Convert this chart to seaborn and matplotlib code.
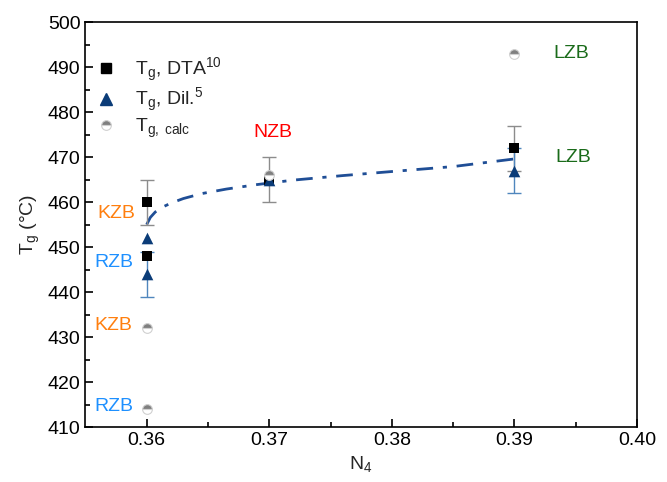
import matplotlib
matplotlib.use("Agg")
import matplotlib.pyplot as plt
import seaborn as sns
import pandas as pd
from matplotlib.lines import Line2D

sns.set_theme(style="ticks")
plt.rcParams['font.family'] = ['Liberation Sans', 'DejaVu Sans']
plt.rcParams['mathtext.fontset'] = 'custom'
plt.rcParams['mathtext.rm'] = 'Liberation Sans'
plt.rcParams['mathtext.it'] = 'Liberation Sans'

# Data
dta_x = [0.36, 0.36, 0.37, 0.39]
dta_y = [460, 448, 465, 472]
dta_err = [5, 0, 5, 5]

dil_x = [0.36, 0.36, 0.37, 0.39]
dil_y = [452, 444, 465, 467]
dil_err = [0, 5, 0, 5]

calc_x = [0.36, 0.36, 0.37, 0.39]
calc_y = [432, 414, 466, 493]

fit_x = [0.3600, 0.3603, 0.3607, 0.3613, 0.3620, 0.3630, 0.3645, 0.3665, 0.3690, 0.3720, 0.3760, 0.3800, 0.3850, 0.3900]
fit_y = [455.0, 456.6, 457.8, 458.9, 459.8, 460.8, 461.9, 462.9, 463.9, 464.9, 465.9, 466.8, 467.9, 469.6]

labels = ["KZB", "RZB", "KZB", "RZB", "NZB", "LZB", "LZB"]
label_x = [0.3575, 0.3573, 0.3573, 0.3573, 0.3703, 0.3946, 0.3948]
label_y = [457.5, 446.5, 432.5, 414.5, 475.5, 493.0, 470.0]
label_colors = ["#ff7f0e", "#1e90ff", "#ff7f0e", "#1e90ff", "#ff0000", "#1a6b1a", "#1a6b1a"]

navy = "#0b3c78"
fitc = "#1f4e96"

fig = plt.figure(figsize=(6.67, 4.82), dpi=100)
ax = fig.add_axes([0.128, 0.114, 0.827, 0.840])

fit_df = pd.DataFrame({"x": fit_x, "y": fit_y})
sns.lineplot(data=fit_df, x="x", y="y", ax=ax, color=fitc, lw=2.0,
             linestyle=(0, (6, 3.5, 1.5, 3.5)), zorder=2, sort=False)

# error bars
for x, y, e in zip(dta_x, dta_y, dta_err):
    if e:
        ax.errorbar(x, y, yerr=e, fmt='none', ecolor="#8c8c8c", elinewidth=1, capsize=5, capthick=1, zorder=3)
for x, y, e in zip(dil_x, dil_y, dil_err):
    if e:
        ax.errorbar(x, y, yerr=e, fmt='none', ecolor="#4f86bd", elinewidth=1, capsize=5, capthick=1, zorder=3)

dta_df = pd.DataFrame({"x": dta_x, "y": dta_y})
dil_df = pd.DataFrame({"x": dil_x, "y": dil_y})
sns.scatterplot(data=dta_df, x="x", y="y", ax=ax, marker="s", color="black", s=55, edgecolor="black", linewidth=0, zorder=4)
sns.scatterplot(data=dil_df, x="x", y="y", ax=ax, marker="^", color=navy, s=70, edgecolor=navy, linewidth=0, zorder=4)
ax.plot(calc_x, calc_y, 'o', ls='none', ms=7, fillstyle='top', markerfacecolor="#7f7f7f",
        markerfacecoloralt="white", markeredgecolor="#d0d0d0", markeredgewidth=0.8, zorder=5)

for t, x, y, c in zip(labels, label_x, label_y, label_colors):
    ax.text(x, y, t, color=c, fontsize=14, ha='center', va='center')

ax.set_xlim(0.355, 0.40)
ax.set_ylim(410, 500)
ax.set_xticks([0.36, 0.37, 0.38, 0.39, 0.40])
ax.set_xticklabels(["0.36", "0.37", "0.38", "0.39", "0.40"])
ax.set_yticks(range(410, 501, 10))
ax.set_xticks([0.365, 0.375, 0.385, 0.395], minor=True)
ax.set_yticks(range(415, 500, 10), minor=True)
ax.tick_params(which='both', direction='in', top=False, right=False, labelsize=14, width=1.2, colors='black')
ax.tick_params(which='major', length=6)
ax.tick_params(which='minor', length=3.5)
for s in ax.spines.values():
    s.set_linewidth(1.2)
    s.set_color('black')
ax.set_xlabel(r"N$_\mathregular{4}$", fontsize=14)
ax.set_ylabel(r"T$_\mathregular{g}$ (°C)", fontsize=14)

handles = [
    Line2D([], [], marker='s', ls='none', color='black', ms=7),
    Line2D([], [], marker='^', ls='none', color=navy, ms=8),
    Line2D([], [], marker='o', ls='none', ms=7, fillstyle='top', markerfacecolor="#7f7f7f",
           markerfacecoloralt="white", markeredgecolor="#d0d0d0", markeredgewidth=0.8),
]
leg_labels = [r"T$_\mathregular{g}$, DTA$^\mathregular{10}$",
              r"T$_\mathregular{g}$, Dil.$^\mathregular{5}$",
              r"T$_\mathregular{g,\ calc}$"]
ax.legend(handles, leg_labels, loc='upper left', bbox_to_anchor=(-0.03, 0.96), frameon=False,
          fontsize=14, handletextpad=0.5, labelspacing=0.12)

fig.savefig("out.png", dpi=100)
